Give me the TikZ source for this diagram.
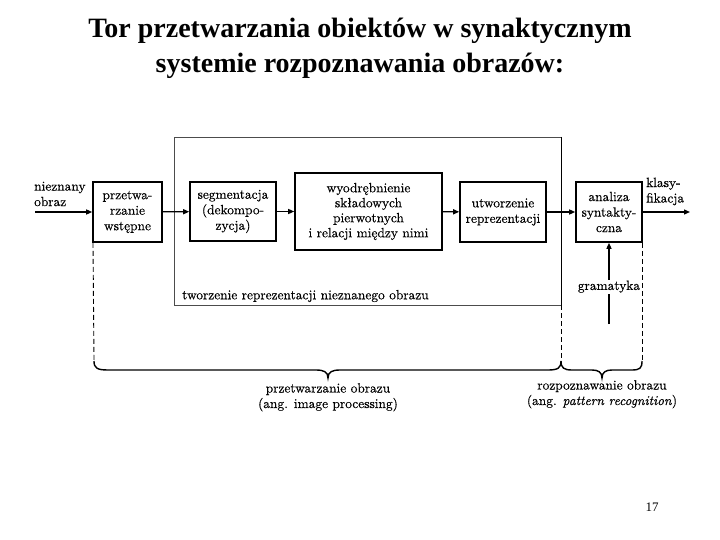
\documentclass[tikz,border=0pt]{standalone}
\usepackage{fontspec}
\newfontfamily\titlefont{Liberation Serif}
\newfontfamily\dfont{lmroman10-regular.otf}[FakeBold=0.35, ItalicFont=lmroman10-italic.otf, ItalicFeatures={FakeBold=0.35}]
\usetikzlibrary{arrows.meta}
\begin{document}
\begin{tikzpicture}[x=1pt,y=-1pt,
  diag/.style={font={\dfont\fontsize{13.4}{15.5}\selectfont}},
  blk/.style={draw, line width=1.6pt, align=center, inner sep=1pt, diag},
  arr/.style={-{Triangle[length=6pt,width=5pt]}, line width=1.3pt},
  dsh/.style={dashed, dash pattern=on 5pt off 3pt, line width=0.9pt},
  brc/.style={line width=1.4pt},
  lbl/.style={diag, align=center, inner sep=0pt}
]
\useasboundingbox (0,0) rectangle (720,540);
% title
\node[font={\titlefont\bfseries\fontsize{28}{30}\selectfont}] (t1) at (360,31) {Tor przetwarzania obiektów w synaktycznym};
\node[font={\titlefont\bfseries\fontsize{28}{30}\selectfont}] (t2) at (360,66) {systemie rozpoznawania obrazów:};
% big box
\coordinate (bigNW) at (174,137);
\coordinate (bigSE) at (561,305);
\coordinate (bigNE) at (561,137);
\coordinate (bigSW) at (174,305);
\draw[line width=0.7pt, black!70] (bigSE) -- (bigSW) -- (bigNW) -- (bigNE);
\draw[line width=1pt] (bigNE) -- (bigSE);
\node[lbl, anchor=west] (tw) at (182,296) {tworzenie reprezentacji\ nieznanego obrazu};
% blocks
\node[blk, minimum width=69pt, minimum height=60pt] (b1) at (127.5,212) {przetwa-\\rzanie\\wstępne};
\node[blk, minimum width=86pt, minimum height=59pt] (b2) at (233,211.5) {segmentacja\\(dekompo-\\zycja)};
\node[blk, minimum width=147pt, minimum height=77pt, font={\dfont\fontsize{13.4}{15}\selectfont}] (b3) at (368.5,211.5) {wyodrębnienie\\składowych\\pierwotnych\\i relacji\ między nimi};
\node[blk, minimum width=86pt, minimum height=60pt] (b4) at (503,212) {utworzenie\\reprezentacji};
\node[blk, minimum width=66pt, minimum height=60pt] (b5) at (609,212) {analiza\\syntakty-\\czna};
% input / output
\coordinate (in) at (35,212);
\coordinate (out) at (690,212);
\node[lbl, align=left, anchor=west] (nin) at (34,194) {nieznany\\obraz};
\node[lbl, align=left, anchor=west] (nout) at (646,191.5) {klasy-\\fikacja};
\draw[arr] (in) -- (b1);
\draw[arr] (b1) -- (b2);
\draw[arr] (b2) -- (b3);
\draw[arr] (b3) -- (b4);
\draw[arr] (b4) -- (b5);
\draw[arr] (b5) -- (out);
% gramatyka
\coordinate (gin) at (609,324);
\draw[arr] (gin) -- node[pos=0.46, fill=white, inner sep=1pt, diag] (gram) {gramatyka} (b5.south);
% dashed guides
\coordinate (dL) at (94,361);
\coordinate (dM) at (561,361);
\coordinate (dR) at (642,361);
\draw[dsh] (b1.south west) ++(0.8,0) -- (dL);
\draw[dsh] (bigSE) -- (dM);
\draw[dsh] (b5.south east) ++(-0.8,0) -- (dR);
% braces
\coordinate (tipA) at (328,378);
\coordinate (tipB) at (602,378);
\draw[brc] (dL) .. controls (94,368) and (97,370) .. (108,370) -- (316,370)
  .. controls (324,370) and (328,372) .. (tipA)
  .. controls (328,372) and (332,370) .. (340,370) -- (548,370)
  .. controls (558,370) and (561,368) .. (dM);
\draw[brc] (dM) .. controls (561,368) and (564,370) .. (572,370) -- (592,370)
  .. controls (598,370) and (602,372) .. (tipB)
  .. controls (602,372) and (606,370) .. (612,370) -- (632,370)
  .. controls (640,370) and (642,368) .. (dR);
\node[lbl, below=5pt] (pA) at (tipA) {przetwarzanie obrazu\\(ang. image processing)};
\node[lbl, below=2pt] (pB) at (tipB) {rozpoznawanie obrazu\\(ang. \textit{pattern recognition})};
% page number
\node[font={\titlefont\fontsize{13}{15}\selectfont}] (pg) at (652,507) {17};
\end{tikzpicture}
\end{document}
